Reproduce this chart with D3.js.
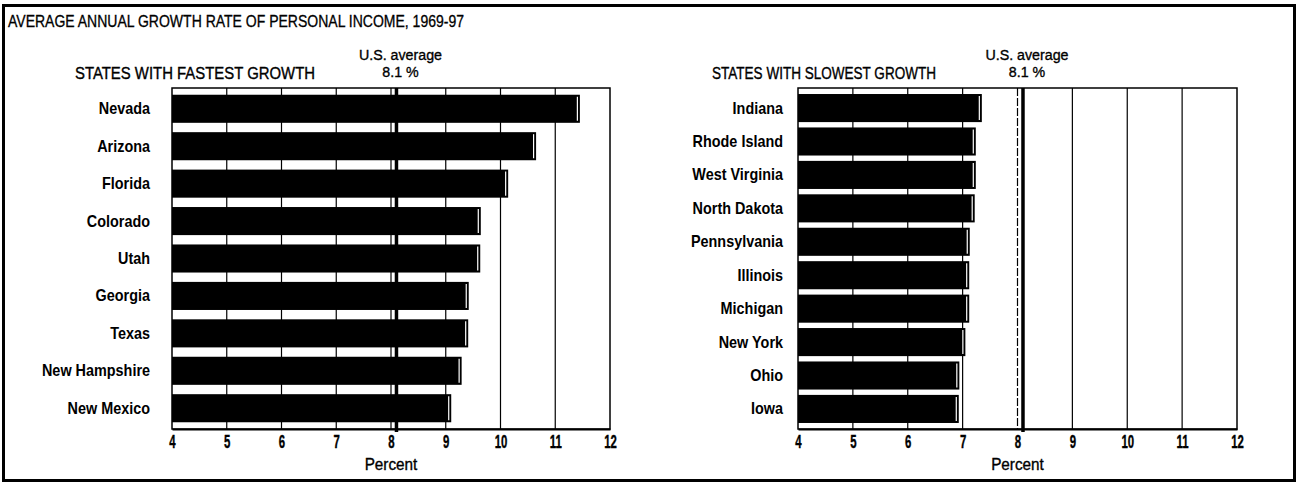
<!DOCTYPE html>
<html>
<head>
<meta charset="utf-8">
<script src="https://cdn.jsdelivr.net/npm/d3@7"></script>
<style>
  body { margin: 0; background: #fff; }
  svg text { font-family: "Liberation Sans", Arial, Helvetica, sans-serif; fill: #000; }
</style>
</head>
<body>
<div id="chart"></div>
<script>
// data
var fastStates = ["Nevada", "Arizona", "Florida", "Colorado", "Utah", "Georgia", "Texas", "New Hampshire", "New Mexico"];
var fastValues = [11.45, 10.65, 10.14, 9.64, 9.63, 9.42, 9.41, 9.29, 9.1];
var slowStates = ["Indiana", "Rhode Island", "West Virginia", "North Dakota", "Pennsylvania", "Illinois", "Michigan", "New York", "Ohio", "Iowa"];
var slowValues = [7.35, 7.24, 7.24, 7.22, 7.13, 7.12, 7.12, 7.05, 6.94, 6.93];
var tickValues = [4, 5, 6, 7, 8, 9, 10, 11, 12];
var usAverage = 8.1;

var width = 1299, height = 484;

var svg = d3.select("#chart").append("svg")
    .attr("width", width)
    .attr("height", height);

// outer frame
svg.append("rect")
    .attr("x", 3.5).attr("y", 5.5)
    .attr("width", 1291).attr("height", 475)
    .attr("fill", "none")
    .attr("stroke", "#000")
    .attr("stroke-width", 3);

svg.append("text")
    .attr("x", 8).attr("y", 27)
    .attr("font-size", 16)
    .attr("textLength", 456)
    .attr("lengthAdjust", "spacingAndGlyphs")
    .style("stroke", "#000").style("stroke-width", 0.3)
    .text("AVERAGE ANNUAL GROWTH RATE OF PERSONAL INCOME, 1969-97");

// narrow text placed at (x, y); the original uses a condensed face
function narrowText(parent, x, y, txt, size, anchor, weight, squeeze) {
    return parent.append("g")
        .attr("transform", "translate(" + x + "," + y + ") scale(" + (squeeze || 0.9) + ",1)")
        .append("text")
        .attr("text-anchor", anchor)
        .attr("font-size", size)
        .attr("font-weight", weight || "normal")
        .text(txt);
}

/**
 * Draws one panel of horizontal bars
 */
function drawPanel(opts) {
    var g = svg.append("g");
    var top = 88, bottom = 429;

    var x = d3.scaleLinear()
        .domain([4, 12])
        .range([opts.left, opts.right]);
    var y = d3.scaleBand()
        .domain(opts.states)
        .range([top, bottom])
        .paddingInner(opts.padInner)
        .paddingOuter(0.18);

    var data = opts.states.map(function (s, i) {
        return {state: s, value: opts.values[i]};
    });

    // heading
    g.append("text")
        .attr("x", opts.titleX).attr("y", 79)
        .attr("font-size", 16)
        .attr("textLength", opts.titleW)
        .attr("lengthAdjust", "spacingAndGlyphs")
        .style("stroke", "#000").style("stroke-width", 0.35)
        .text(opts.title);

    narrowText(g, x(usAverage) + 4, 60, "U.S. average", 15, "middle", "normal", 0.95)
        .style("stroke", "#000").style("stroke-width", 0.35);
    narrowText(g, x(usAverage) + 4, 77, "8.1 %", 15, "middle", "normal", 0.95)
        .style("stroke", "#000").style("stroke-width", 0.35);

    // gridlines
    g.append("g").selectAll("line")
        .data(tickValues.slice(1, -1))
        .enter().append("line")
        .attr("x1", function (d) { return x(d); })
        .attr("x2", function (d) { return x(d); })
        .attr("y1", top).attr("y2", bottom)
        .attr("stroke", "#000")
        .attr("stroke-width", 1.2)
        .attr("stroke-dasharray", function (d) { return (d === 8 && opts.dash8) ? "8,2" : null; });

    // plot box
    g.append("rect")
        .attr("x", x(4)).attr("y", top)
        .attr("width", x(12) - x(4)).attr("height", bottom - top)
        .attr("fill", "none")
        .attr("stroke", "#000")
        .attr("stroke-width", 1.5);

    // bars
    var bars = g.append("g").selectAll("g")
        .data(data)
        .enter().append("g");
    bars.append("rect")
        .attr("x", x(4))
        .attr("y", function (d) { return y(d.state); })
        .attr("width", function (d) { return x(d.value) - x(4); })
        .attr("height", y.bandwidth())
        .attr("fill", "#000");
    bars.append("line")
        .attr("x1", function (d) { return x(d.value) - 2.5; })
        .attr("x2", function (d) { return x(d.value) - 2.5; })
        .attr("y1", function (d) { return y(d.state) + 2; })
        .attr("y2", function (d) { return y(d.state) + y.bandwidth() - 2; })
        .attr("stroke", "#fff")
        .attr("stroke-width", 1.2);

    // state labels
    data.forEach(function (d) {
        narrowText(g, opts.labelX, y(d.state) + y.bandwidth() / 2 + 5.5, d.state, 16, "end", "bold", 0.9);
    });

    // U.S. average line
    g.append("line")
        .attr("x1", x(usAverage)).attr("x2", x(usAverage))
        .attr("y1", top).attr("y2", bottom + 3)
        .attr("stroke", "#000")
        .attr("stroke-width", 3.5);

    // x axis
    var axis = g.append("g")
        .attr("transform", "translate(0," + bottom + ")")
        .call(d3.axisBottom(x).tickValues(tickValues).tickSize(0).tickPadding(6));
    axis.select(".domain").attr("stroke", "#000").attr("stroke-width", 2);
    axis.selectAll(".tick text")
        .attr("font-family", "'Liberation Sans', Arial, sans-serif")
        .attr("font-size", 19)
        .attr("font-weight", "bold")
        .style("stroke", "#000").style("stroke-width", 0.4)
        .attr("transform", "scale(0.6,1)");

    narrowText(g, (x(4) + x(12)) / 2, 470, "Percent", 17, "middle", "normal", 0.9)
        .style("stroke", "#000").style("stroke-width", 0.35);
}

drawPanel({
    states: fastStates, values: fastValues,
    left: 172, right: 610, labelX: 150, padInner: 0.25, dash8: false,
    title: "STATES WITH FASTEST GROWTH", titleX: 75, titleW: 240
});

drawPanel({
    states: slowStates, values: slowValues,
    left: 798, right: 1237, labelX: 783, padInner: 0.16, dash8: true,
    title: "STATES WITH SLOWEST GROWTH", titleX: 712, titleW: 224
});
</script>
</body>
</html>
